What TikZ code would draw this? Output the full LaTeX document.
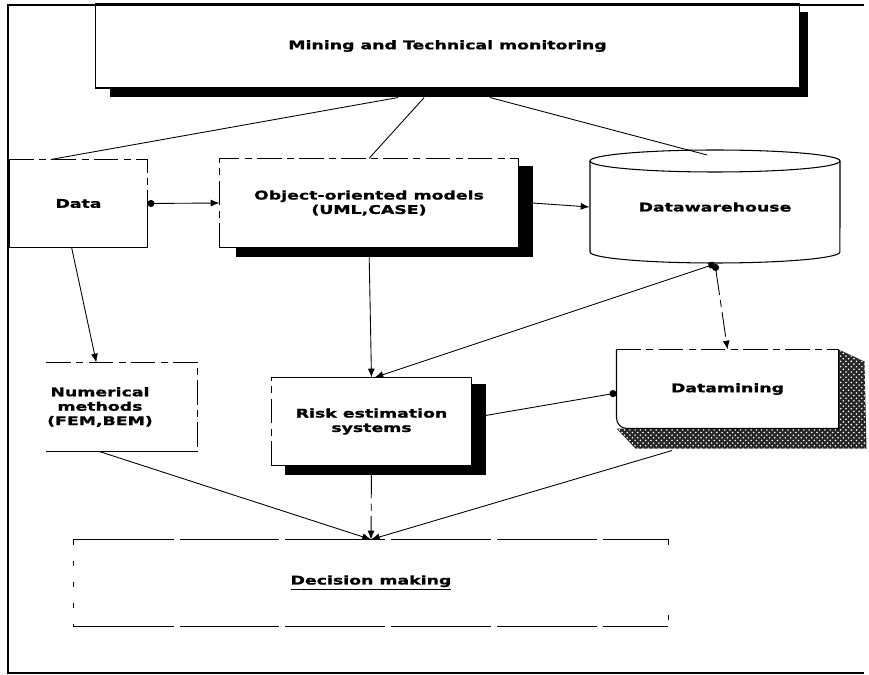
\documentclass[tikz,border=0pt]{standalone}
\usepackage{fontspec}
\newfontfamily\scanfont[FakeStretch=1.45, FakeBold=1.2]{DejaVu Sans}
\usetikzlibrary{calc,arrows.meta,patterns}

\tikzset{
  lbl/.style={font=\scanfont\bfseries\fontsize{6.8}{8.2}\selectfont, align=center, inner sep=0pt},
  link/.style={line width=0.5pt},
  tip/.style={-{Latex[length=5pt,width=4pt]}},
  dottip/.style={{Circle[length=4pt]}-{Latex[length=5pt,width=4pt]}},
  broken/.style={dash pattern=on 14pt off 3pt on 4pt off 3pt}
}

\begin{document}
\begin{tikzpicture}[x=0.02cm, y=-0.02cm, line width=0.6pt]
  \useasboundingbox (0,0) rectangle (869,675);

  % outer frame
  \draw[line width=1pt] (864,5) -- (8,5) -- (8,673) -- (864,673);

  % boxes
  \node[lbl, draw, minimum width=14.1cm, minimum height=1.68cm] (mon) at (447.5,46) {Mining and Technical monitoring};
  \node[lbl, minimum width=2.74cm, minimum height=1.74cm] (data) at (78.5,203.5) {Data};
  \node[lbl, minimum width=5.96cm, minimum height=1.76cm] (oo) at (369,203) {Object-oriented models\\(UML,CASE)};
  \node[lbl, minimum width=5cm, minimum height=2.26cm] (dwh) at (715,207) {Datawarehouse};
  \node[minimum width=3cm, minimum height=1.76cm, inner sep=0pt,
        label={[lbl, xshift=-0.44cm]center:Numerical\\methods\\(FEM,BEM)}] (num) at (122,407) {};
  \node[lbl, minimum width=3.98cm, minimum height=1.74cm] (risk) at (371.5,421.5) {Risk estimation\\systems};
  \node[lbl, minimum width=4.42cm, minimum height=1.56cm] (dmine) at (727.5,389) {Datamining};
  \node[lbl, minimum width=11.88cm, minimum height=1.72cm] (dec) at (371,583) {\underline{Decision making}};

  % shadows
  \fill (800,12) rectangle (808,97);
  \fill (110,88) rectangle (808,97);
  \fill ($(oo.north east)+(0,8)$) rectangle ($(oo.south east)+(14,9)$);
  \fill ($(oo.south west)+(16,0)$) rectangle ($(oo.south east)+(14,9)$);
  \fill ($(risk.north east)+(0,7)$) rectangle ($(risk.south east)+(14,9)$);
  \fill ($(risk.south west)+(14,0)$) rectangle ($(risk.south east)+(14,9)$);
  \fill[black!85] (dmine.north east) -- ($(dmine.north east)+(26,12)$) -- ($(dmine.south east)+(28,20)$)
    -- ($(dmine.south west)+(19,20)$) -- (dmine.south west) -- (dmine.south east) -- cycle;
  \fill[pattern=crosshatch dots, pattern color=white] (dmine.north east) -- ($(dmine.north east)+(26,12)$)
    -- ($(dmine.south east)+(28,20)$) -- ($(dmine.south west)+(19,20)$) -- (dmine.south west) -- (dmine.south east) -- cycle;

  % outlines
  \draw[broken] (data.north west) -- (data.north east) -- (data.east);
  \draw (data.east) -- (data.south east) -- (data.south west) -- (data.north west);
  \draw[broken] (oo.south west) -- (oo.north west) -- (oo.north east);
  \draw (oo.north east) -- (oo.south east) -- (oo.south west);
  \draw (715,161) ellipse [x radius=2.5cm, y radius=0.22cm];
  \draw (590,161) -- (590,252) arc[start angle=180, end angle=360, x radius=2.5cm, y radius=0.22cm] -- (840,161);
  \draw[broken] (num.north west) -- (num.north east) -- (num.south east);
  \draw (num.south east) -- (num.south west);
  \draw[broken] (risk.south west) -- (risk.north west);
  \draw (risk.north west) -- (risk.north east) -- (risk.south east) -- (risk.south west);
  \draw[broken] (dmine.north west) -- (dmine.north east);
  \draw (dmine.north east) -- (dmine.south east);
  \draw[rounded corners=6pt] (dmine.north west) -- (dmine.south west) -- (dmine.south east);
  \draw[dash pattern=on 2cm off 0.12cm] (dec.north west) -- (dec.north east);
  \draw[dash pattern=on 2cm off 0.12cm] (dec.south west) -- (dec.south east);
  \draw[dash pattern=on 3pt off 9pt] (dec.north west) -- (dec.south west);
  \draw[dash pattern=on 3pt off 40pt] (dec.north east) -- (dec.south east);

  % connectors
  \draw[link] ($(mon.south west)!0.43!(mon.south east)+(0,9)$) -- ($(data.north west)!0.3!(data.north east)$);
  \draw[link] ($(mon.south west)!0.467!(mon.south east)+(0,9)$) -- (oo.north);
  \draw[link] ($(mon.south west)!0.56!(mon.south east)+(0,9)$) -- ($(dwh.north)+(-8,5)$);
  \draw[link, dottip] (data.east) -- (oo.west);
  \draw[link, tip] ($(oo.east)+(14,0)$) -- (dwh.west);
  \draw[link, dottip] (oo.south) -- (risk.north);
  \draw[link, dottip] (dwh.south) -- ($(risk.north)+(3,0)$);
  \draw[link, broken, dottip] (dwh.south) -- (dmine.north);
  \draw[link, -{Circle[length=4pt]}] ($(risk.east)+(14,-6)$) -- ($(dmine.west)+(0,4)$);
  \draw[link, tip] ($(data.south west)!0.45!(data.south east)$) -- ($(num.north west)!0.33!(num.north east)$);
  \draw[link, tip] ($(num.south west)!0.35!(num.south east)$) -- (dec.north);
  \draw[link, tip] ($(dmine.south west)!0.25!(dmine.south east)+(0,22)$) -- (dec.north);
  \draw[link, broken, {Latex[length=5pt,width=4pt]}-{Latex[length=5pt,width=4pt]}] (risk.south) -- (dec.north);
\end{tikzpicture}
\end{document}
